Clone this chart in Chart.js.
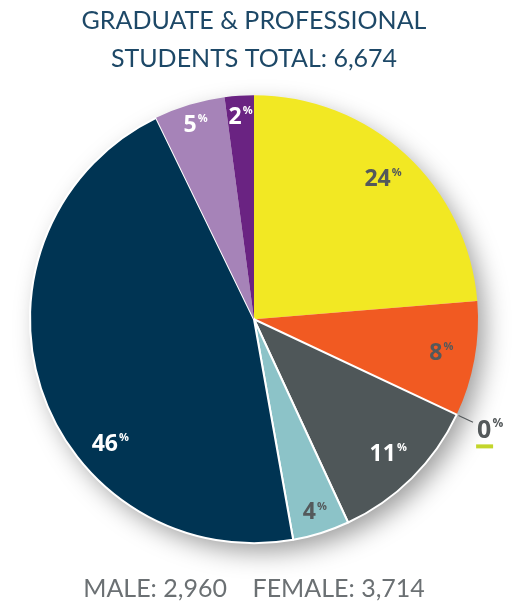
<!DOCTYPE html>
<html>
<head>
<meta charset="utf-8">
<script src="https://cdn.jsdelivr.net/npm/chart.js@4/dist/chart.umd.min.js"></script>
<style>
  html, body { margin: 0; padding: 0; background: #fff; }
  #wrap { width: 524px; height: 607px; }
</style>
</head>
<body>
<div id="wrap"><canvas id="gradChart"></canvas></div>
<script>
// share of graduate & professional students, in percent, clockwise from 12 o'clock
const categories = ['Group 1', 'Group 2', 'Group 3', 'Group 4', 'Group 5', 'Group 6', 'Group 7', 'Group 8'];
const shares = [23.7, 8.3, 0, 11.1, 4.1, 45.6, 5.1, 2.1];
const titleLines = ['GRADUATE & PROFESSIONAL', 'STUDENTS TOTAL: 6,674'];
const footerText = 'MALE: 2,960    FEMALE: 3,714';

const sliceColors = ['#f2e823', '#f15a22', '#c3d52b', '#4f5759', '#8cc3c8', '#003453', '#a683b8', '#6a2382'];
const labelColors = ['#54595b', '#54595b', '#54595b', '#ffffff', '#54595b', '#ffffff', '#ffffff', '#ffffff'];

const shadowPlugin = {
  id: 'pieShadow',
  beforeDatasetsDraw(chart) {
    const arc = chart.getDatasetMeta(0).data[0];
    if (!arc) return;
    const { x, y, outerRadius } = arc.getProps(['x', 'y', 'outerRadius'], true);
    const ctx = chart.ctx;
    ctx.save();
    ctx.shadowColor = 'rgba(0,0,0,0.4)';
    ctx.shadowBlur = 26;
    ctx.shadowOffsetX = 8;
    ctx.shadowOffsetY = 10;
    ctx.fillStyle = '#ffffff';
    ctx.beginPath();
    ctx.arc(x, y, outerRadius - 2, 0, Math.PI * 2);
    ctx.fill();
    ctx.restore();
  }
};

function drawPct(ctx, text, cx, cy, color, size) {
  size = size || 23;
  const small = Math.round(size * 0.48);
  ctx.font = 'bold ' + size + 'px "Open Sans"';
  const w1 = ctx.measureText(text).width;
  ctx.font = 'bold ' + small + 'px "Open Sans"';
  const w2 = ctx.measureText('%').width;
  const left = cx - (w1 + w2 + 1) / 2;
  ctx.fillStyle = color;
  ctx.textAlign = 'left';
  ctx.textBaseline = 'middle';
  ctx.font = 'bold ' + size + 'px "Open Sans"';
  ctx.fillText(text, left, cy);
  ctx.font = 'bold ' + small + 'px "Open Sans"';
  ctx.fillText('%', left + w1 + 1, cy - size * 0.27);
  return { left, width: w1 + w2 + 1 };
}

const labelPlugin = {
  id: 'sliceLabels',
  afterDatasetsDraw(chart) {
    const ctx = chart.ctx;
    const total = shares.reduce((a, b) => a + b, 0);
    chart.getDatasetMeta(0).data.forEach((arc, i) => {
      const p = arc.getProps(['x', 'y', 'startAngle', 'endAngle', 'outerRadius'], true);
      const pct = Math.round(shares[i] / total * 100);
      let mid = (p.startAngle + p.endAngle) / 2;
      ctx.save();
      if (pct < 1) {
        // outside callout with leader line
        const c = Math.cos(mid), s = Math.sin(mid);
        ctx.strokeStyle = '#54595b';
        ctx.lineWidth = 1.2;
        ctx.beginPath();
        ctx.moveTo(p.x + c * (p.outerRadius + 2), p.y + s * (p.outerRadius + 2));
        ctx.lineTo(p.x + c * (p.outerRadius + 18), p.y + s * (p.outerRadius + 18));
        ctx.stroke();
        const lx = p.x + c * (p.outerRadius + 37);
        const ly = p.y + s * (p.outerRadius + 37);
        const box = drawPct(ctx, String(pct), lx, ly, labelColors[i], 25);
        ctx.fillStyle = sliceColors[i];
        ctx.fillRect(box.left - 1, ly + 14, 17, 4);
      } else {
        if (i === 5) mid -= 23 * Math.PI / 180;
        const f = shares[i] < 6 ? 0.905 : 0.85;
        const lx = p.x + Math.cos(mid) * p.outerRadius * f;
        const ly = p.y + Math.sin(mid) * p.outerRadius * f;
        drawPct(ctx, String(pct), lx, ly, labelColors[i]);
      }
      ctx.restore();
    });
  }
};

new Chart(document.getElementById('gradChart'), {
  type: 'pie',
  data: {
    labels: categories,
    datasets: [{
      data: shares,
      backgroundColor: sliceColors,
      borderColor: '#ffffff',
      borderWidth: [0, 0, 0, 2, 2, 2, 0, 0]
    }]
  },
  options: {
    responsive: true,
    maintainAspectRatio: false,
    animation: false,
    radius: 224,
    layout: { padding: { left: 0, right: 16, top: 0, bottom: 0 } },
    plugins: {
      legend: { display: false },
      tooltip: { enabled: false },
      title: {
        display: true,
        text: titleLines,
        color: '#1d4867',
        font: { family: 'Lato', size: 25, weight: 'normal', lineHeight: 1.52 },
        padding: { top: 2, bottom: 13 }
      },
      subtitle: {
        display: true,
        position: 'bottom',
        text: footerText,
        color: '#6b7073',
        font: { family: 'Lato', size: 25, weight: 'normal', lineHeight: 1.42 },
        padding: { top: 24, bottom: 0 }
      }
    }
  },
  plugins: [shadowPlugin, labelPlugin]
});
</script>
</body>
</html>
